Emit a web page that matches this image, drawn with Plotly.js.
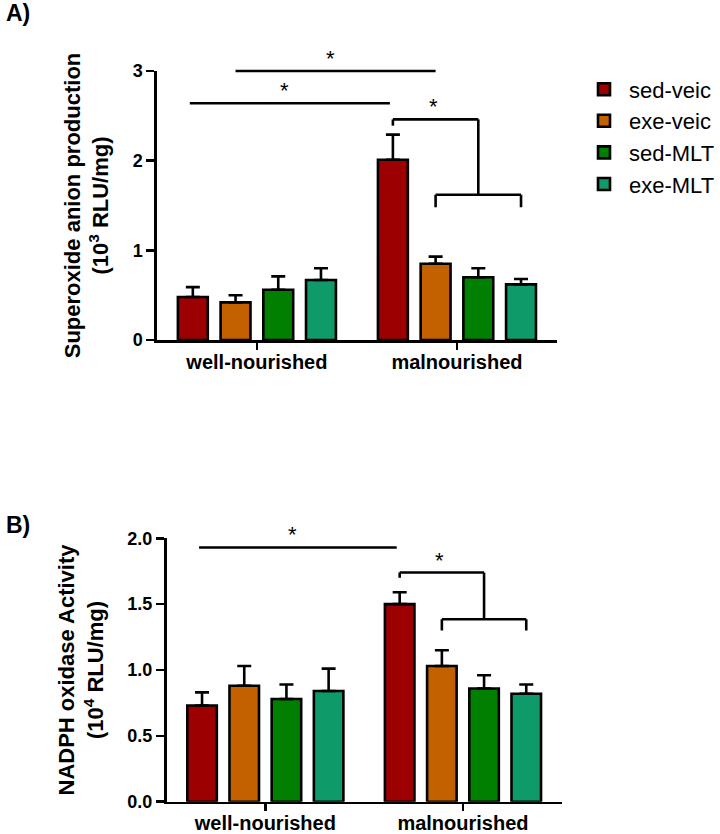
<!DOCTYPE html>
<html>
<head>
<meta charset="utf-8">
<script src="https://cdn.plot.ly/plotly-3.0.1.min.js"></script>
<style>
  html, body { margin: 0; padding: 0; background: #fff; }
  #chart { width: 720px; height: 834px; }
</style>
</head>
<body>
<div id="chart"></div>
<script>
// Groups and treatments
const groups = ['well-nourished', 'malnourished'];
const seriesNames = ['sed-veic', 'exe-veic', 'sed-MLT', 'exe-MLT'];

// A) Superoxide anion production (10^3 RLU/mg): mean and SEM
const sedVeicA = [0.48, 2.01];
const exeVeicA = [0.42, 0.85];
const sedMltA  = [0.56, 0.70];
const exeMltA  = [0.67, 0.62];
const sedVeicAErr = [0.11, 0.28];
const exeVeicAErr = [0.08, 0.08];
const sedMltAErr  = [0.15, 0.10];
const exeMltAErr  = [0.13, 0.06];

// B) NADPH oxidase activity (10^4 RLU/mg): mean and SEM
const sedVeicB = [0.73, 1.50];
const exeVeicB = [0.88, 1.03];
const sedMltB  = [0.78, 0.86];
const exeMltB  = [0.84, 0.82];
const sedVeicBErr = [0.10, 0.09];
const exeVeicBErr = [0.15, 0.12];
const sedMltBErr  = [0.11, 0.10];
const exeMltBErr  = [0.17, 0.07];

// Y-axis tick values
const ticksA = [0, 1, 2, 3];
const ticksB = [0, 0.5, 1.0, 1.5, 2.0];
const tickTextB = ['0.0', '0.5', '1.0', '1.5', '2.0'];

const colors = ['#9c0000', '#c36100', '#007f00', '#0f9b69'];
const FONT = 'Liberation Sans, Arial, sans-serif';
const BARGAP = 0.146;
const LW = 2.6;

const valuesA = [sedVeicA, exeVeicA, sedMltA, exeMltA];
const errorsA = [sedVeicAErr, exeVeicAErr, sedMltAErr, exeMltAErr];
const valuesB = [sedVeicB, exeVeicB, sedMltB, exeMltB];
const errorsB = [sedVeicBErr, exeVeicBErr, sedMltBErr, exeMltBErr];

function barTrace(i, vals, errs, xa, ya, showLegend) {
  return {
    type: 'bar',
    name: seriesNames[i],
    x: groups,
    y: vals,
    xaxis: xa,
    yaxis: ya,
    showlegend: showLegend,
    marker: { color: colors[i], line: { color: '#000', width: LW } },
    error_y: {
      type: 'data', array: errs, arrayminus: errs.map(() => 0),
      symmetric: false, color: '#000', thickness: LW, width: 7
    },
    hoverinfo: 'x+y+name'
  };
}

const traces = [];
for (let i = 0; i < 4; i++) traces.push(barTrace(i, valuesA[i], errorsA[i], 'x', 'y', true));
for (let i = 0; i < 4; i++) traces.push(barTrace(i, valuesB[i], errorsB[i], 'x2', 'y2', false));

// Center of bar `bar` inside group `grp`, in category units
function barX(grp, bar) {
  const slot = (1 - BARGAP) / seriesNames.length;
  return grp + (bar - (seriesNames.length - 1) / 2) * slot;
}

// Significance markers, expressed in data units of each panel
const shapes = [];
const annotations = [];
function seg(xa, ya, yTop, x0, y0, x1, y1) {
  shapes.push({
    type: 'line', xref: xa, yref: ya + ' domain',
    x0: x0, x1: x1, y0: y0 / yTop, y1: y1 / yTop,
    line: { color: '#000', width: LW }
  });
}
function star(xa, ya, yTop, x, y, dx) {
  annotations.push({
    xref: xa, yref: ya + ' domain', x: x, y: y / yTop,
    text: '*', showarrow: false, yanchor: 'bottom', yshift: -2, xshift: dx,
    font: { family: FONT, size: 22, color: '#000' }
  });
}
function spanLine(xa, ya, yTop, xl, xr, y) {
  seg(xa, ya, yTop, xl, y, xr, y);
  star(xa, ya, yTop, (xl + xr) / 2, y, -5);
}
function bracket(xa, ya, yTop, yUp, yUpDrop, yLow, yLowDrop) {
  const xa0 = barX(1, 0);
  const xl0 = barX(1, 1), xl1 = barX(1, 3);
  const xc = (xl0 + xl1) / 2;
  seg(xa, ya, yTop, xa0, yUp, xc, yUp);
  seg(xa, ya, yTop, xa0, yUp, xa0, yUpDrop);
  seg(xa, ya, yTop, xc, yUp, xc, yLow);
  seg(xa, ya, yTop, xl0, yLow, xl1, yLow);
  seg(xa, ya, yTop, xl0, yLow, xl0, yLowDrop);
  seg(xa, ya, yTop, xl1, yLow, xl1, yLowDrop);
  star(xa, ya, yTop, (xa0 + xc) / 2, yUp, -2);
}

const topA = 3, topB = 2;
spanLine('x', 'y', topA, barX(0, 1), barX(1, 1), 3.0);
spanLine('x', 'y', topA, barX(0, 0) - 0.015, barX(1, 0) - 0.015, 2.64);
bracket('x', 'y', topA, 2.46, 2.39, 1.62, 1.48);

spanLine('x2', 'y2', topB, barX(0, 0) - 0.015, barX(1, 0) - 0.015, 1.93);
bracket('x2', 'y2', topB, 1.74, 1.70, 1.385, 1.30);

// Panel letters
annotations.push({
  xref: 'paper', yref: 'paper', x: 0.005, y: 0.985, xanchor: 'left', yanchor: 'middle',
  text: '<b>A)</b>', showarrow: false, font: { family: FONT, size: 23, color: '#000' }
});
annotations.push({
  xref: 'paper', yref: 'paper', x: 0.005, y: 0.37, xanchor: 'left', yanchor: 'middle',
  text: '<b>B)</b>', showarrow: false, font: { family: FONT, size: 23, color: '#000' }
});

const tickFont = { family: FONT, size: 18, color: '#000', weight: 'bold' };
const catFont = { family: FONT, size: 20, color: '#000', weight: 'bold' };
const titleFont = { family: FONT, size: 22, color: '#000', weight: 'bold' };

function xAxis(domain, anchor) {
  return {
    domain: domain, anchor: anchor, type: 'category', range: [-0.5, 1.5],
    showline: true, linecolor: '#000', linewidth: LW,
    ticks: 'outside', ticklen: 7, tickwidth: LW, tickcolor: '#000',
    ticklabelstandoff: -5,
    tickfont: catFont, showgrid: false, zeroline: false, fixedrange: true
  };
}
function yAxis(domain, anchor, range, tickvals, ticktext, title) {
  return {
    domain: domain, anchor: anchor, range: range,
    tickvals: tickvals, ticktext: ticktext,
    showline: true, linecolor: '#000', linewidth: LW,
    ticks: 'outside', ticklen: 8, tickwidth: LW, tickcolor: '#000',
    tickfont: tickFont, showgrid: false, zeroline: false, fixedrange: true,
    title: { text: title, font: titleFont, standoff: 18 }
  };
}

const layout = {
  width: 720, height: 834, autosize: false,
  margin: { l: 0, r: 0, t: 0, b: 0 },
  paper_bgcolor: '#fff', plot_bgcolor: '#fff',
  barmode: 'group', bargap: BARGAP, bargroupgap: 0.3,
  font: { family: FONT, color: '#000' },
  xaxis: xAxis([0.2194, 0.779], 'y'),
  yaxis: yAxis([0.5923, 0.9149], 'x', [0, topA], ticksA, ticksA.map(String),
    'Superoxide anion production<br>(10<sup>3</sup> RLU/mg)'),
  xaxis2: xAxis([0.2329, 0.7857], 'y2'),
  yaxis2: yAxis([0.0387, 0.3546], 'x2', [0, topB], ticksB, tickTextB,
    'NADPH oxidase Activity<br>(10<sup>4</sup> RLU/mg)'),
  legend: {
    x: 0.81, y: 0.918, xanchor: 'left', yanchor: 'top',
    font: { family: FONT, size: 22, color: '#000' },
    traceorder: 'normal', bgcolor: 'rgba(0,0,0,0)', itemwidth: 40
  },
  shapes: shapes,
  annotations: annotations,
  showlegend: true
};

Plotly.newPlot('chart', traces, layout, { displayModeBar: false, staticPlot: true });
</script>
</body>
</html>
